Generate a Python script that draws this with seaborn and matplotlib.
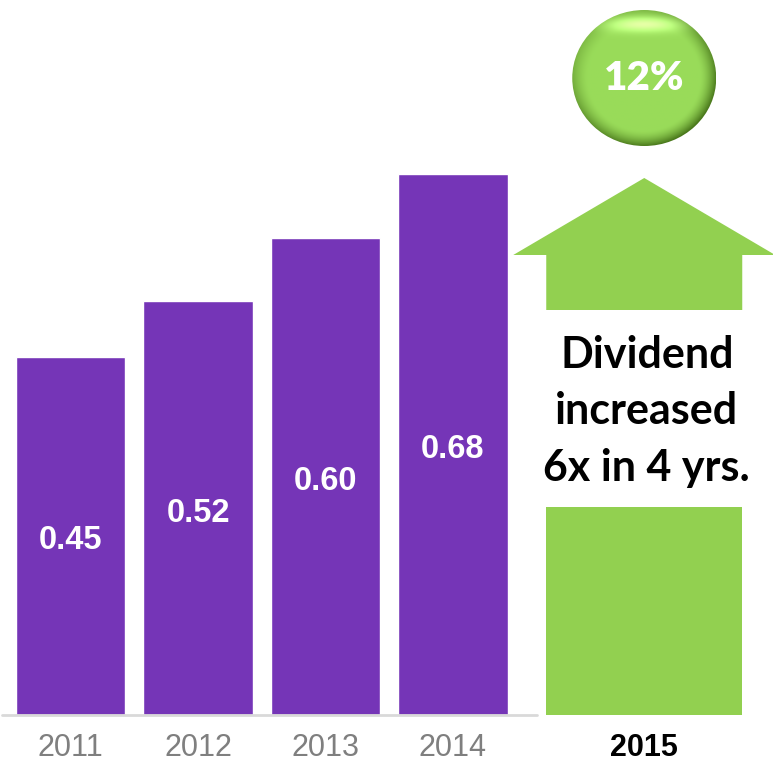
import numpy as np
import pandas as pd
import matplotlib
matplotlib.use("Agg")
import matplotlib.pyplot as plt
import seaborn as sns
from matplotlib.patches import Polygon, Ellipse, Rectangle

years = ["2011", "2012", "2013", "2014"]
dividends = [0.45, 0.52, 0.60, 0.68]
next_year = "2015"
growth_label = "12%"
note_lines = ["Dividend", "increased", "6x in 4 yrs."]

purple = "#7535B7"
green = "#92D050"

sns.set_theme(style="white")
plt.rcParams["font.family"] = ["Liberation Sans", "DejaVu Sans"]

fig = plt.figure(figsize=(7.73, 7.68), dpi=100)
H = 768.0
ax = fig.add_axes([0, (H - 715) / H, 1, 715 / H])

df = pd.DataFrame({"year": years, "dividend": dividends})
sns.barplot(data=df, x="year", y="dividend", color=purple, saturation=1,
            width=0.86, ax=ax, zorder=2)

xl = -70.5 / 127.5
xr = (773 - 70.5) / 127.5
ax.set_xlim(xl, xr)
ytop = 715 / 795.6
ax.set_ylim(0, ytop)
for s in ax.spines.values():
    s.set_visible(False)
ax.set_yticks([])
ax.set_ylabel("")
ax.set_xlabel("")

# baseline
ax.plot([xl + 2 / 127.5, 3.5 + 20 / 127.5], [0, 0], color="#d9d9d9", lw=2,
        zorder=3, clip_on=False)

# bar labels
for i, v in enumerate(dividends):
    ax.text(i, v / 2 - 5 / 795.6, f"{v:.2f}", ha="center", va="center", color="white",
            fontsize=23.5, fontweight="bold", zorder=4)

# ticks
x15 = 4.5
ax.set_xticks([0, 1, 2, 3, x15])
ax.set_xticklabels(years + [next_year])
ax.tick_params(axis="x", length=0, pad=13)
for lbl in ax.get_xticklabels():
    lbl.set_fontsize(22)
    lbl.set_color("#7f7f7f")
last = ax.get_xticklabels()[-1]
last.set_color("black")
last.set_fontweight("bold")
last.set_fontsize(22)

# arrow (2015)
px = 1 / 795.6
shaft_hw = 98 / 127.5
head_hw = 131 / 127.5
tip_y = (715 - 178) * px
head_base = (715 - 255) * px
gap_top = (715 - 310) * px
gap_bot = (715 - 507) * px
head = Polygon([[x15 - head_hw, head_base], [x15, tip_y], [x15 + head_hw, head_base],
                [x15 + shaft_hw, head_base], [x15 + shaft_hw, gap_top],
                [x15 - shaft_hw, gap_top], [x15 - shaft_hw, head_base]],
               closed=True, facecolor=green, edgecolor="none", zorder=2, clip_on=False)
ax.add_patch(head)
ax.add_patch(Rectangle((x15 - shaft_hw, 0), 2 * shaft_hw, gap_bot, facecolor=green,
                       edgecolor="none", zorder=2))

for k, line in enumerate(note_lines):
    yy = (715 - (355 + k * 56.5)) * px
    ax.text(x15 + 0.02, yy, line, ha="center", va="center", fontsize=31,
            fontweight="bold", color="black", family=["Lato", "DejaVu Sans"], zorder=4)

# circle with shading
cx, cy = x15, (715 - 78) * px
rx, ry = 72 / 127.5, 68 * px
n = 300
xs = np.linspace(-1, 1, n)
X, Y = np.meshgrid(xs, xs)  # Y=-1 top row (origin upper)
R = np.sqrt(X ** 2 + Y ** 2)
base = np.array([0.60, 0.86, 0.35])
dark = np.array([0.28, 0.46, 0.10])
shade = np.clip((R - 0.78) / 0.22, 0, 1) ** 1.5
dirw = np.clip(0.5 + 0.5 * (X * 0.6 + Y * 0.8), 0, 1)
t = (shade * (0.3 + 0.7 * dirw))[..., None]
img = base * (1 - t) + dark * t
hl = np.exp(-((X) ** 2 / 0.30 + (Y + 0.78) ** 2 / 0.012))[..., None] * 0.30
img = np.clip(img + hl, 0, 1)
im = ax.imshow(img, extent=[cx - rx, cx + rx, cy - ry, cy + ry], origin="upper",
               aspect="auto", zorder=3, interpolation="bilinear")
ell = Ellipse((cx, cy), 2 * rx, 2 * ry, transform=ax.transData, facecolor="none",
              edgecolor="none")
ax.add_patch(ell)
im.set_clip_path(ell)
ax.text(cx, cy, growth_label, ha="center", va="center", color="white", fontsize=29,
        fontweight="heavy", family=["Lato", "DejaVu Sans"], zorder=5)

fig.savefig("out.png", dpi=100)
